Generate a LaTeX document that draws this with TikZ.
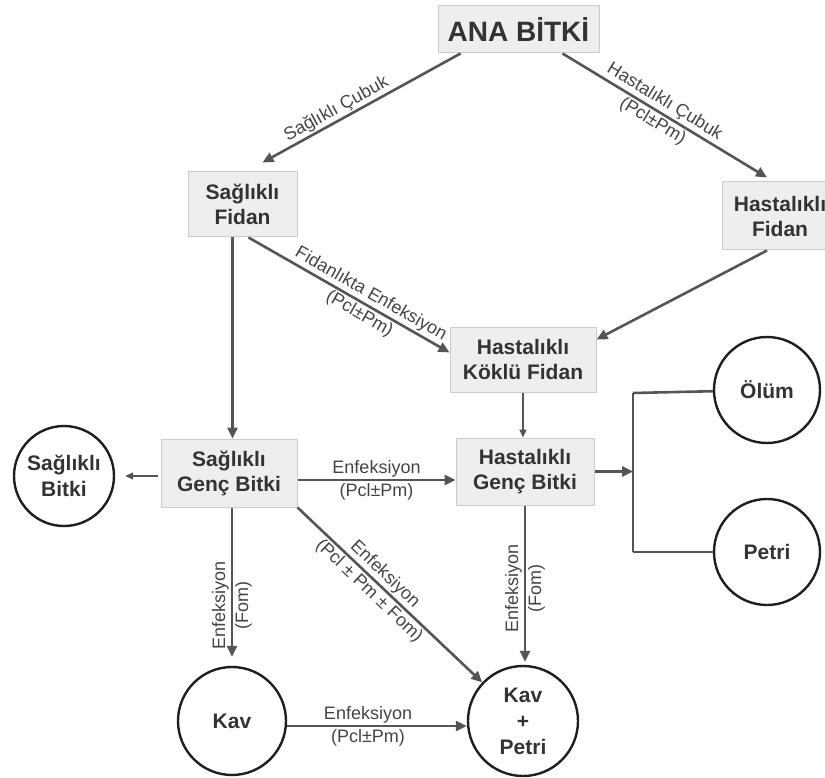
\documentclass[tikz,border=0pt]{standalone}
\usepackage{fontspec}
\setmainfont{Liberation Sans}
\usetikzlibrary{arrows.meta,positioning}

\definecolor{boxfill}{HTML}{EEEEEE}
\definecolor{boxline}{HTML}{CCCCCC}
\definecolor{arrowgray}{HTML}{555555}
\definecolor{labelgray}{HTML}{444444}
\definecolor{nodetext}{HTML}{333333}

\tikzset{
  stagebox/.style={draw=boxline, line width=1pt, fill=boxfill, text=nodetext,
    font=\bfseries\fontsize{21}{25}\selectfont, align=center, inner sep=2pt},
  endstate/.style={circle, draw=black!88, line width=2.4pt, text=nodetext,
    font=\bfseries\fontsize{21}{26}\selectfont, align=center, inner sep=0pt,
    minimum size=#1},
  flow/.style={draw=arrowgray, line width=2.6pt, -{Triangle[length=11pt,width=10pt]}},
  thinflow/.style={draw=arrowgray, line width=1.6pt, -{Triangle[length=8pt,width=7pt]}},
  plainline/.style={draw=arrowgray, line width=2.6pt},
  flowlabel/.style={font=\fontsize{18}{23}\selectfont, text=labelgray, align=center, inner sep=1pt},
}

\begin{document}
\begin{tikzpicture}[x=1pt,y=-1pt]
    \useasboundingbox (0,0) rectangle (825,778);
    \clip (0,0) rectangle (825,778);

    % Mother plant
    \node[stagebox, minimum width=161pt, minimum height=47pt,
      font=\bfseries\fontsize{28}{32}\selectfont] (ana) at (518.5,29.5) {ANA BİTKİ};

    % Saplings
    \node[stagebox, minimum width=109pt, minimum height=65pt] (sfidan) at (242.5,204.5) {Sağlıklı\\Fidan};
    \node[stagebox, minimum width=116pt, minimum height=68pt] (hfidan) at (780,216) {Hastalıklı\\Fidan};
    \node[stagebox, minimum width=146pt, minimum height=65pt] (hkfidan) at (523,359.5) {Hastalıklı\\Köklü Fidan};

    % Young plants
    \node[stagebox, minimum width=136pt, minimum height=68pt] (sgenc) at (229,473) {Sağlıklı\\Genç Bitki};
    \node[stagebox, minimum width=138pt, minimum height=67pt] (hgenc) at (525,471.5) {Hastalıklı\\Genç Bitki};

    % Outcomes
    \node[endstate=100pt] (sbitki) at (64,476) {Sağlıklı\\Bitki};
    \node[endstate=106pt] (olum) at (767,390) {Ölüm};
    \node[endstate=106pt] (petri) at (767,552) {Petri};
    \node[endstate=108pt] (kav) at (232,721) {Kav};
    \node[endstate=110pt] (kavpetri) at (523,721) {Kav\\+\\Petri};

    % From the mother plant
    \draw[flow] ([xshift=-58pt]ana.south) -- ([xshift=20pt,yshift=9pt]sfidan.north)
      node[flowlabel, sloped, above, pos=0.6] {Sağlıklı Çubuk};
    \draw[flow] ([xshift=44pt]ana.south) -- ([xshift=-13pt,yshift=4pt]hfidan.north)
      node[flowlabel, sloped, pos=0.47] {Hastalıklı Çubuk\\(Pcl±Pm)};

    % Saplings to rooted sapling
    \draw[flow] ([xshift=6pt]sfidan.south) -- ([yshift=7pt]hkfidan.west)
      node[flowlabel, sloped, pos=0.58] {Fidanlıkta Enfeksiyon\\(Pcl±Pm)};
    \draw[flow] ([xshift=-13pt]hfidan.south) -- ([yshift=-13pt]hkfidan.north east);

    % Down to young plants
    \draw[flow] ([xshift=-10pt]sfidan.south) -- ([xshift=-10pt]sfidan.south |- sgenc.north);
    \draw[thinflow] (hkfidan.south) -- (hkfidan.south |- hgenc.north);
    \draw[thinflow, shorten <=3pt, shorten >=10pt] ([yshift=-3pt]sgenc.west) -- (sbitki);
    \draw[flow] ([yshift=-7pt]sgenc.east) -- ([yshift=-7pt]sgenc.east -| hgenc.west)
      node[flowlabel, midway] {Enfeksiyon\\(Pcl±Pm)};

    % Fork to death or Petri
    \coordinate (fork) at (633,471.5);
    \coordinate (forkup) at (633,393);
    \coordinate (forkdown) at (633,552);
    \draw[flow] (hgenc.east) -- (fork);
    \draw[plainline] (forkup) -- (forkdown);
    \draw[plainline] (forkup) -- (olum);
    \draw[plainline] (forkdown) -- (petri);

    % Down to Kav and Kav + Petri
    \draw[flow, shorten >=9pt] ([xshift=3pt]sgenc.south) -- ([xshift=3pt]sgenc.south |- kav.north)
      node[flowlabel, rotate=90, pos=0.62] {Enfeksiyon\\(Fom)};
    \draw[flow] (sgenc.south east) -- (kavpetri)
      node[flowlabel, sloped, pos=0.43] {Enfeksiyon\\(Pcl ± Pm ± Fom)};
    \draw[flow, shorten >=3pt] (hgenc.south) -- (hgenc.south |- kavpetri.north)
      node[flowlabel, rotate=90, pos=0.52] {Enfeksiyon\\(Fom)};
    \draw[flow] ([yshift=-5pt]kav.east) -- ([yshift=-5pt]kav.east -| kavpetri.west)
      node[flowlabel, pos=0.45] {Enfeksiyon\\(Pcl±Pm)};
\end{tikzpicture}
\end{document}
